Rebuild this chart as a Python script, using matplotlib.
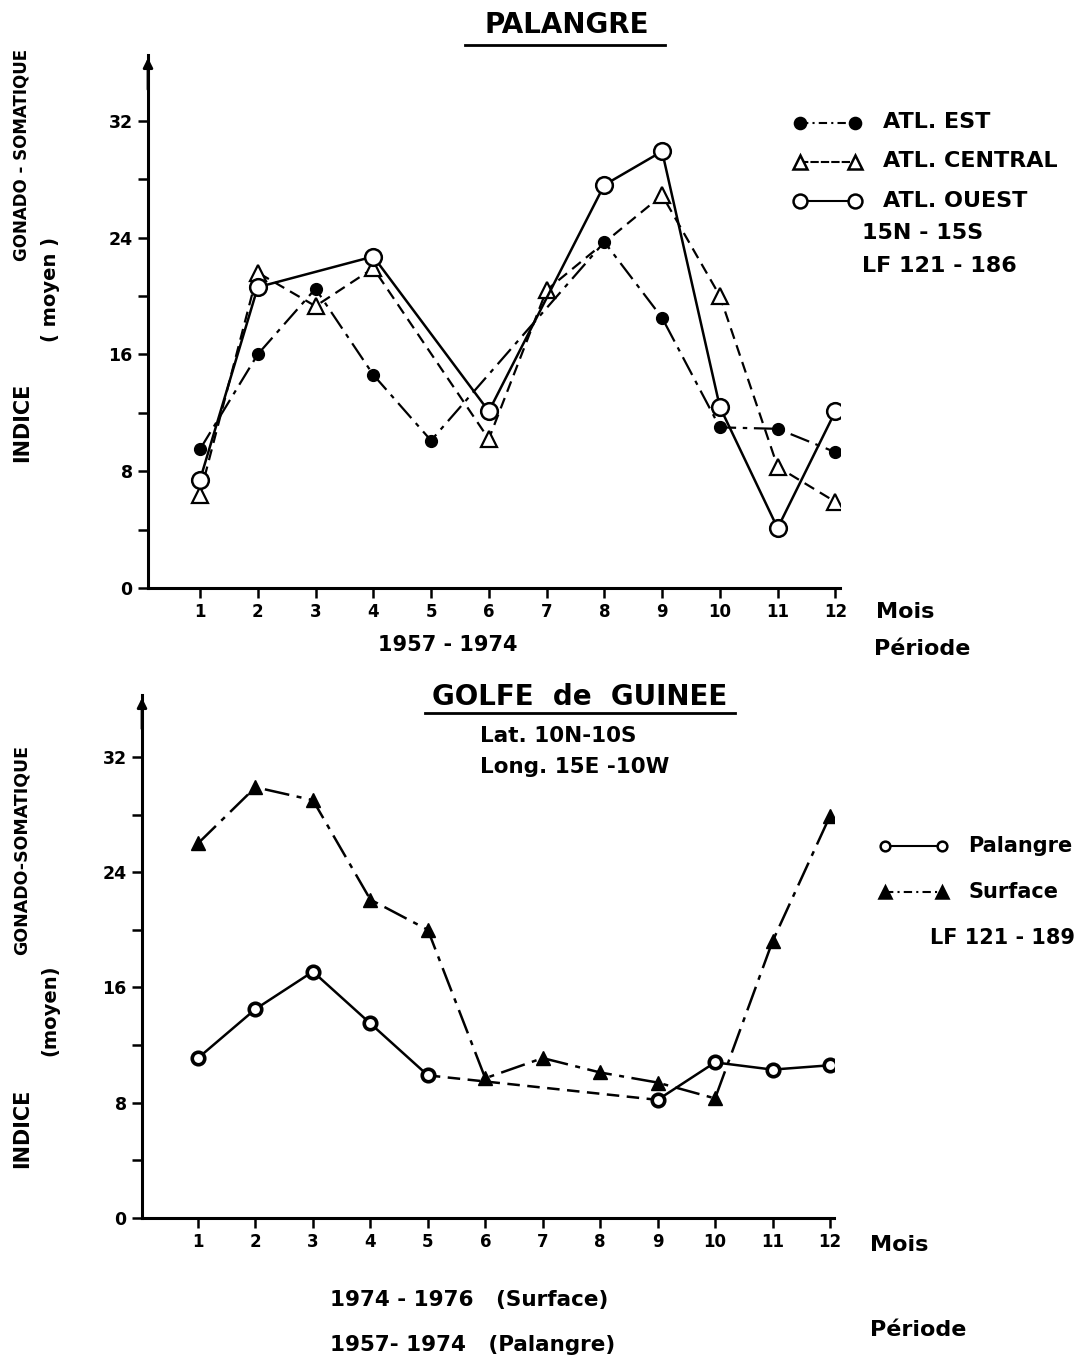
import numpy as np
import matplotlib.pyplot as plt
from matplotlib.lines import Line2D

plt.rcParams['font.family'] = ['DejaVu Sans']
plt.rcParams['font.weight'] = 'bold'

W, H = 1082, 1362

# ---- PALANGRE (haut) ----
mois_est = [1, 2, 3, 4, 5, 8, 9, 10, 11, 12]
igs_est = [9.5, 16.0, 20.5, 14.6, 10.1, 23.7, 18.5, 11.0, 10.9, 9.3]

mois_central = [1, 2, 3, 4, 6, 7, 9, 10, 11, 12]
igs_central = [6.4, 21.6, 19.3, 21.9, 10.2, 20.4, 26.9, 20.0, 8.3, 5.9]

mois_ouest = [1, 2, 4, 6, 8, 9, 10, 11, 12]
igs_ouest = [7.4, 20.6, 22.7, 12.1, 27.6, 29.9, 12.4, 4.1, 12.1]

# ---- GOLFE de GUINEE (bas) ----
mois_pal = [1, 2, 3, 4, 5, 9, 10, 11, 12]
igs_pal = [11.1, 14.5, 17.1, 13.5, 9.9, 8.2, 10.8, 10.3, 10.6]

mois_surf = [1, 2, 3, 4, 5, 6, 7, 8, 9, 10, 11, 12]
igs_surf = [26.0, 29.9, 29.0, 22.1, 20.0, 9.7, 11.1, 10.1, 9.4, 8.3, 19.2, 27.9]

mois_ticks = list(range(1, 13))
y_labels = [0, 8, 16, 24, 32]


def fx(x):
    return x / W


def fy(y):
    return 1 - y / H


def make_axes(left, right, top, bottom, xlim, ylim):
    ax = fig.add_axes([fx(left), fy(bottom), (right - left) / W, (bottom - top) / H])
    ax.set_xlim(*xlim)
    ax.set_ylim(*ylim)
    for s in ['top', 'right']:
        ax.spines[s].set_visible(False)
    ax.spines['left'].set_linewidth(2.2)
    ax.spines['bottom'].set_linewidth(2.2)
    ax.set_xticks(mois_ticks)
    ax.set_xticklabels([str(m) for m in mois_ticks], fontsize=12, fontweight='bold')
    ax.set_yticks(np.arange(0, 33, 4))
    ax.set_yticklabels([str(v) if v in y_labels else '' for v in np.arange(0, 33, 4)],
                       fontsize=12.5, fontweight='bold')
    ax.tick_params(axis='both', direction='out', length=7, width=1.8, pad=4)
    # fleche en haut de l'axe des ordonnees
    ax.annotate('', xy=(0, 1.0), xycoords='axes fraction', xytext=(0, 0.93),
                arrowprops=dict(arrowstyle='-|>', color='black', lw=2, mutation_scale=14))
    return ax


def txt(x, y, s, size=14, **kw):
    fig.text(fx(x), fy(y), s, fontsize=size, fontweight='bold', ha=kw.pop('ha', 'left'),
             va=kw.pop('va', 'center'), **kw)


def legend_line(x0, x1, y, marker, ls, mfc, ms):
    fig.add_artist(Line2D([fx(x0), fx(x1)], [fy(y), fy(y)], transform=fig.transFigure,
                          color='black', lw=1.5, ls=ls, marker=marker, mfc=mfc, mec='black',
                          ms=ms, mew=1.8))


fig = plt.figure(figsize=(W / 100, H / 100), dpi=100)

# ===== graphique du haut =====
ax1 = make_axes(148, 840, 55, 588, (0.1, 12.08), (0, 36.5))
ax1.plot(mois_est, igs_est, color='black', lw=1.6, ls=(0, (9, 3, 2, 3)),
         marker='o', ms=8.5, mfc='black', mec='black')
ax1.plot(mois_central, igs_central, color='black', lw=1.6, ls=(0, (5, 3)),
         marker='^', ms=11, mfc='white', mec='black', mew=1.6)
ax1.plot(mois_ouest, igs_ouest, color='black', lw=1.8, ls='-',
         marker='o', ms=12, mfc='white', mec='black', mew=1.8)

txt(567, 25, 'PALANGRE', 20, ha='center')
fig.add_artist(Line2D([fx(465), fx(665)], [fy(45), fy(45)], color='black', lw=2))
txt(22, 422, 'INDICE', 15, rotation=90, ha='center')
txt(22, 155, 'GONADO - SOMATIQUE', 12, rotation=90, ha='center')
txt(50, 290, '( moyen )', 14, rotation=90, ha='center')
txt(876, 612, 'Mois', 16)
txt(874, 649, 'Période', 16)
txt(448, 645, '1957 - 1974', 15, ha='center')

legend_line(800, 855, 123, 'o', (0, (4, 2, 1, 2)), 'black', 8)
legend_line(800, 855, 162, '^', (0, (4, 1)), 'white', 10)
legend_line(800, 855, 201, 'o', '-', 'white', 10)
txt(883, 122, 'ATL. EST', 16)
txt(883, 161, 'ATL. CENTRAL', 16)
txt(883, 201, 'ATL. OUEST', 16)
txt(862, 233, '15N - 15S', 16)
txt(862, 266, 'LF 121 - 186', 16)

# ===== graphique du bas =====
ax2 = make_axes(142, 834, 695, 1218, (0.025, 12.07), (0, 36.3))
ax2.plot(mois_surf, igs_surf, color='black', lw=1.8, ls=(0, (10, 3, 2, 3)),
         marker='^', ms=10, mfc='black', mec='black', zorder=3)
ax2.plot(mois_pal[:5], igs_pal[:5], color='black', lw=1.8, ls='-',
         marker='o', ms=9, mfc='white', mec='black', mew=2.6, zorder=4)
ax2.plot(mois_pal[4:6], igs_pal[4:6], color='black', lw=1.8, ls=(0, (5, 3)), zorder=2)
ax2.plot(mois_pal[5:], igs_pal[5:], color='black', lw=1.8, ls='-',
         marker='o', ms=9, mfc='white', mec='black', mew=2.6, zorder=4)

txt(580, 697, 'GOLFE  de  GUINEE', 20, ha='center')
fig.add_artist(Line2D([fx(425), fx(735)], [fy(713), fy(713)], color='black', lw=2))
txt(480, 736, 'Lat. 10N-10S', 15.5)
txt(480, 767, 'Long. 15E -10W', 15.5)
txt(22, 1128, 'INDICE', 15, rotation=90, ha='center')
txt(22, 850, 'GONADO-SOMATIQUE', 12.5, rotation=90, ha='center')
txt(50, 1010, '(moyen)', 14, rotation=90, ha='center')
txt(870, 1245, 'Mois', 16)
txt(330, 1300, '1974 - 1976   (Surface)', 15.5)
txt(330, 1345, '1957- 1974   (Palangre)', 15.5)
txt(870, 1330, 'Période', 16)

legend_line(885, 942, 846, 'o', '-', 'white', 7)
legend_line(885, 942, 892, '^', (0, (4, 2, 1, 2)), 'black', 8)
txt(968, 846, 'Palangre', 15)
txt(968, 892, 'Surface', 15)
txt(930, 938, 'LF 121 - 189', 15)

fig.savefig('out.png', dpi=100)
